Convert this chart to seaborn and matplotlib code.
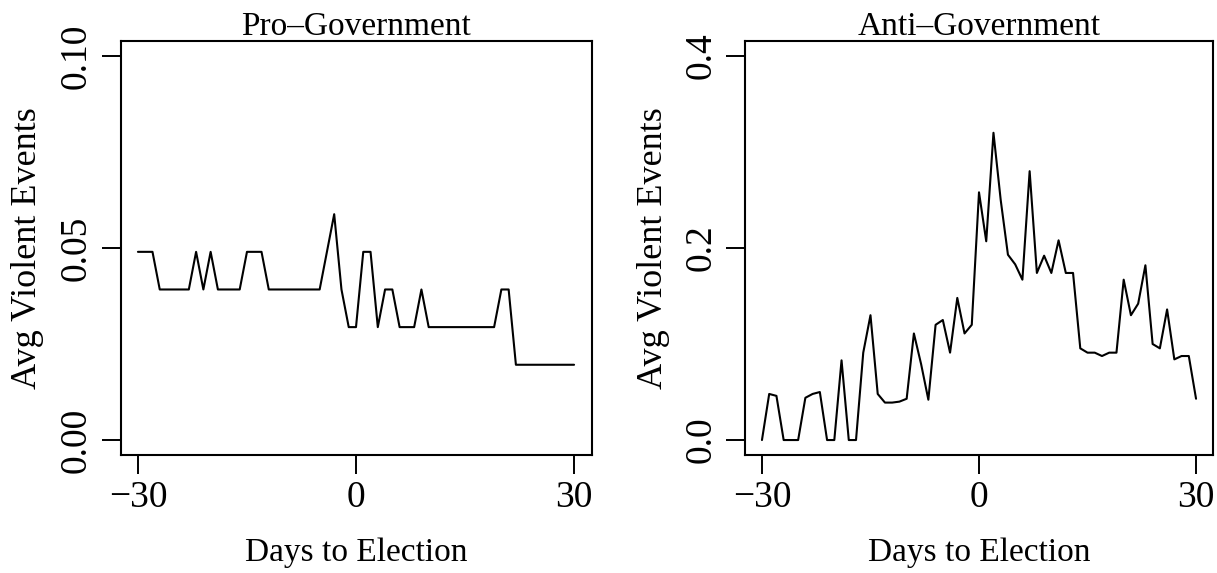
import numpy as np
import pandas as pd
import matplotlib
matplotlib.use("Agg")
import matplotlib.pyplot as plt
import seaborn as sns

# Days relative to the election (negative = before)
days = list(range(-30, 31))

# Average number of violent events per day, pro-government actors
pro_gov = [
    0.0490, 0.0490, 0.0490, 0.0392, 0.0392, 0.0392, 0.0392, 0.0392,  # -30 .. -23
    0.0490, 0.0392, 0.0490, 0.0392, 0.0392, 0.0392, 0.0392,          # -22 .. -16
    0.0490, 0.0490, 0.0490, 0.0392,                                  # -15 .. -12
    0.0392, 0.0392, 0.0392, 0.0392, 0.0392, 0.0392, 0.0392,          # -11 .. -5
    0.0490, 0.0588, 0.0392, 0.0294, 0.0294,                          # -4 .. 0
    0.0490, 0.0490, 0.0294, 0.0392, 0.0392, 0.0294, 0.0294, 0.0294, 0.0392,  # 1 .. 9
    0.0294, 0.0294, 0.0294, 0.0294, 0.0294, 0.0294, 0.0294, 0.0294, 0.0294, 0.0294,  # 10 .. 19
    0.0392, 0.0392,                                                  # 20 .. 21
    0.0196, 0.0196, 0.0196, 0.0196, 0.0196, 0.0196, 0.0196, 0.0196, 0.0196,  # 22 .. 30
]

# Average number of violent events per day, anti-government actors
anti_gov = [
    0.000, 0.048, 0.046, 0.000, 0.000, 0.000, 0.044, 0.048, 0.050, 0.000,  # -30 .. -21
    0.000, 0.083, 0.000, 0.000, 0.091, 0.130, 0.048, 0.039, 0.039, 0.040,  # -20 .. -11
    0.043, 0.111, 0.079, 0.042, 0.120, 0.125, 0.091, 0.148, 0.111, 0.120,  # -10 .. -1
    0.258,                                                                  # 0
    0.207, 0.320, 0.250, 0.193, 0.183, 0.167, 0.280, 0.174, 0.192, 0.174,  # 1 .. 10
    0.208, 0.174, 0.174, 0.0955, 0.091, 0.091, 0.0875, 0.091, 0.091, 0.167,  # 11 .. 20
    0.130, 0.142, 0.182, 0.100, 0.0955, 0.136, 0.084, 0.0875, 0.0875, 0.043,  # 21 .. 30
]

panel_titles = ["Pro\u2013Government", "Anti\u2013Government"]
x_ticks = [-30, 0, 30]
x_tick_labels = ["\u221230", "0", "30"]
y_ticks_pro = [0.00, 0.05, 0.10]
y_tick_labels_pro = ["0.00", "0.05", "0.10"]
y_ticks_anti = [0.0, 0.2, 0.4]
y_tick_labels_anti = ["0.0", "0.2", "0.4"]

sns.set_style("white")
plt.rcParams["font.family"] = ["Liberation Serif", "DejaVu Serif"]

FS = 24
TICK_FS = 27
W, H = 1217, 573
fig = plt.figure(figsize=(W / 100, H / 100), dpi=100)

def px_axes(left, top, right, bottom):
    return [left / W, 1 - bottom / H, (right - left) / W, (bottom - top) / H]

ax_pro = fig.add_axes(px_axes(120.5, 40.6, 591.5, 455.4))
ax_anti = fig.add_axes(px_axes(744.6, 40.6, 1213.4, 455.4))

frames = [
    pd.DataFrame({"day": days, "events": pro_gov}),
    pd.DataFrame({"day": days, "events": anti_gov}),
]
ylims = [(0.0, 0.10), (0.0, 0.40)]
yticks = [y_ticks_pro, y_ticks_anti]
yticklabels = [y_tick_labels_pro, y_tick_labels_anti]

for ax, df, title, (y0, y1), yt, ytl in zip(
    [ax_pro, ax_anti], frames, panel_titles, ylims, yticks, yticklabels
):
    sns.lineplot(data=df, x="day", y="events", ax=ax, color="black",
                 linewidth=1.5, estimator=None)
    # R-style 4% padding around the data range
    ax.set_xlim(-32.4, 32.4)
    pad = 0.04 * (y1 - y0)
    ax.set_ylim(y0 - pad, y1 + pad)

    ax.set_xticks(x_ticks)
    ax.set_xticklabels(x_tick_labels)
    ax.set_yticks(yt)
    ax.set_yticklabels(ytl, rotation=90, va="center")

    for sp in ax.spines.values():
        sp.set_visible(True)
        sp.set_color("black")
        sp.set_linewidth(1.5)

    ax.tick_params(axis="both", which="major", direction="out", length=14,
                   width=1.4, color="black", labelsize=TICK_FS,
                   labelcolor="black",
                   bottom=True, left=True, top=False, right=False)
    ax.tick_params(axis="x", pad=4)
    ax.tick_params(axis="y", pad=5)

    ax.set_title(title, fontsize=FS, pad=4, color="black")
    ax.set_xlabel("Days to Election", fontsize=FS, color="black")
    ax.set_ylabel("Avg Violent Events", fontsize=26, color="black")
    ax.grid(False)

ax_pro.yaxis.set_label_coords((44 - 120.5) / 471.0, 0.5)
ax_anti.yaxis.set_label_coords((670 - 744.6) / 468.8, 0.5)
for ax in (ax_pro, ax_anti):
    ax.xaxis.set_label_coords(0.5, -(537 - 455.4) / 414.8)

fig.savefig("out.png", dpi=100)
